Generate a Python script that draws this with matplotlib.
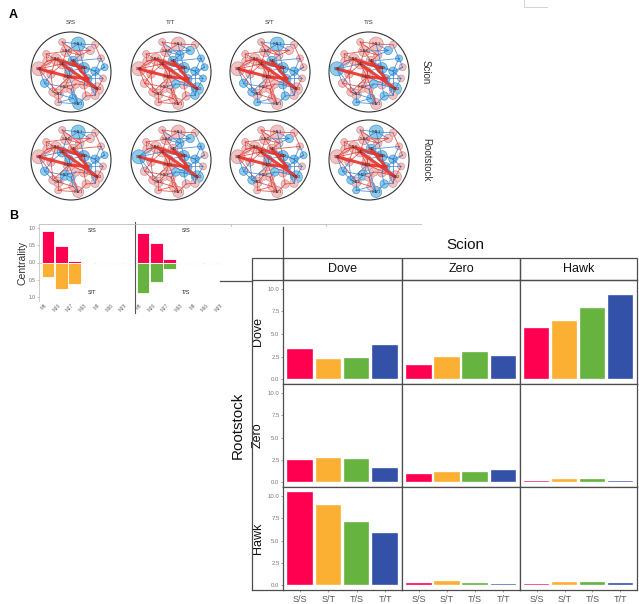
import matplotlib
matplotlib.use("Agg")
import matplotlib.pyplot as plt
from matplotlib.patches import Circle, Rectangle

plt.rcParams['font.family'] = ['Liberation Sans', 'DejaVu Sans']

W, H = 639, 604

# ---- panel B: bar facets (rows = rootstock, cols = scion) ----
genotypes = ["S/S", "S/T", "T/S", "T/T"]
strategies = ["Dove", "Zero", "Hawk"]
bar_colors = ["#FF0050", "#FBB034", "#66B43F", "#3451A8"]
root_dove = [[3.4, 2.2, 2.3, 3.8], [1.6, 2.5, 3.0, 2.6], [5.7, 6.4, 7.9, 9.3]]
root_zero = [[2.45, 2.7, 2.6, 1.55], [0.9, 1.1, 1.1, 1.35], [0.15, 0.35, 0.35, 0.2]]
root_hawk = [[10.45, 9.0, 7.1, 5.85], [0.25, 0.5, 0.3, 0.15], [0.2, 0.4, 0.4, 0.3]]
yticks_main = [0, 2.5, 5, 7.5, 10]

# ---- panel B: centrality ----
modules = ["M6", "M26", "M27", "M18", "M4", "M16", "M28"]
cent_ss_left = [0.91, 0.47, 0.05, 0, 0, 0, 0]
cent_st = [-0.41, -0.77, -0.62, 0, 0, 0, 0]
cent_ss_right = [0.85, 0.58, 0.09, 0, 0, 0, 0]
cent_ts = [-0.88, -0.56, -0.18, 0, 0, 0, 0]

# ---- panel A: network layout (shared), unit-circle coords ----
node_names = ["M11", "M1", "M16", "M10", "M2", "M3", "M9", "M25", "M5", "M6", "M12",
              "M21", "M4", "M18", "M8", "M7", "M13", "M14", "M15", "M17", "M19", "M20",
              "M22", "M23", "M24", "M26", "M27", "M28", "M29", "M30", "M31", "M32",
              "M33", "M34"]
node_x = [0.18, -0.80, -0.12, -0.38, -0.22, 0.05, 0.32, -0.05, -0.50, 0.60, 0.66, 0.18,
          0.42, -0.32, 0.75, 0.80, -0.60, -0.66, -0.45, -0.15, 0.05, 0.38, 0.60, 0.48,
          0.22, -0.22, 0.00, -0.62, 0.32, 0.84, -0.32, 0.12, 0.60, -0.05]
node_y = [0.70, 0.08, 0.52, 0.32, 0.20, 0.27, 0.10, -0.12, -0.05, 0.02, -0.42, -0.80,
          -0.17, -0.55, 0.34, -0.16, 0.27, -0.28, -0.50, -0.38, -0.66, -0.60, -0.58,
          0.54, 0.42, 0.75, -0.43, 0.45, -0.32, 0.12, -0.76, -0.30, 0.68, 0.02]
node_size = [7, 7, 5.5, 5.5, 5, 5, 5.5, 6, 4.2, 4.2, 6, 5.5, 4.2, 5, 3.5, 3.5, 4.2, 4.2,
             4.2, 5, 4.2, 4.2, 4.2, 4.2, 4.2, 3.5, 4.2, 3.5, 4.2, 3.5, 3.5, 4.2, 3.5, 4.2]
edges = [(0, 2), (0, 6), (0, 23), (0, 32), (1, 4), (1, 3), (1, 8), (1, 16), (1, 13),
         (2, 4), (2, 5), (2, 24), (3, 4), (3, 27), (4, 6), (4, 7), (4, 8), (5, 6), (5, 9),
         (5, 14), (6, 9), (6, 12), (6, 33), (7, 10), (7, 11), (7, 19), (7, 33), (8, 17),
         (8, 18), (9, 29), (9, 15), (10, 12), (10, 22), (10, 28), (11, 20), (11, 21),
         (11, 30), (12, 15), (13, 18), (13, 20), (14, 29), (16, 27), (17, 18), (19, 31),
         (21, 22), (23, 24), (24, 25), (25, 2), (26, 19), (26, 11), (28, 21), (31, 26),
         (32, 14), (33, 7), (13, 30), (3, 16), (12, 29), (20, 30), (1, 17), (16, 3),
         (2, 23), (5, 24), (9, 22), (15, 10), (19, 13), (26, 20), (8, 3), (6, 28),
         (0, 25), (14, 9), (31, 28), (17, 19), (27, 2), (12, 22), (7, 18), (4, 33)]
hub_edges = [(1, 7), (4, 10), (7, 12), (3, 6), (5, 12)]
net_titles = ["S/S", "T/T", "S/T", "T/S"]
blue_nodes = [
    [0, 6, 11, 12, 9, 5, 20, 33, 29, 17],            # scion S/S
    [6, 9, 10, 12, 14, 15, 22, 23, 24, 29, 5, 31],   # scion T/T
    [0, 6, 9, 12, 17, 18, 21, 28, 30, 5],            # scion S/T
    [1, 6, 9, 10, 12, 14, 23, 20, 21, 30, 31],       # scion T/S
    [0, 4, 6, 9, 12, 17, 19, 29, 33, 26],            # rootstock S/S
    [1, 6, 9, 10, 14, 23, 24, 28, 31, 12],           # rootstock T/T
    [6, 9, 10, 12, 17, 18, 23, 29, 31, 33],          # rootstock S/T
    [0, 5, 6, 9, 12, 17, 18, 19, 21, 30, 11],        # rootstock T/S
]


def px_rect(x0, y0, x1, y1):
    return [x0 / W, 1 - y1 / H, (x1 - x0) / W, (y1 - y0) / H]


fig = plt.figure(figsize=(W / 100, H / 100), dpi=100)
bg = fig.add_axes([0, 0, 1, 1])
bg.set_xlim(0, W)
bg.set_ylim(H, 0)
bg.axis("off")

# ---------------- panel A ----------------
bg.text(9, 15, "A", fontsize=9, fontweight="bold", va="center")
net_cx = [71, 171, 270, 369]
net_cy = [72, 160]
R = 40
for k in range(8):
    row, col = divmod(k, 4)
    cx, cy = net_cx[col], net_cy[row]
    bg.add_patch(Circle((cx, cy), R, fill=False, ec="#333333", lw=0.8))
    blues = set(blue_nodes[k])
    px = [cx + x * R for x in node_x]
    py = [cy - y * R for y in node_y]
    for i in range(len(node_names)):
        if i in blues:
            fc, ec = "#8CCBEA", "#3C86C2"
        else:
            fc, ec = "#F3C2C3", "#C08585"
        bg.add_patch(Circle((px[i], py[i]), node_size[i], fc=fc, ec=ec, lw=0.4, zorder=2))
    # edges drawn over the nodes, as in the dense original layout
    for a, b in edges:
        c = "#2B7BD0" if (a in blues or b in blues) else "#E5332B"
        bg.plot([px[a], px[b]], [py[a], py[b]], color=c, lw=0.6, alpha=0.8, zorder=3)
    for a, b in hub_edges:
        bg.plot([px[a], px[b]], [py[a], py[b]], color="#E5332B", lw=2.2, alpha=0.9, zorder=3)
    for i in range(len(node_names)):
        if node_size[i] >= 5:
            bg.text(px[i], py[i], node_names[i], fontsize=3, ha="center", va="center",
                    color="#333333", zorder=4, family="DejaVu Serif")
    if row == 0:
        bg.text(cx, 22, net_titles[col], fontsize=4.5, ha="center", va="center", color="#333333")
bg.text(426, 72, "Scion", fontsize=7, rotation=-90, ha="center", va="center", color="#333333")
bg.text(426, 160, "Rootstock", fontsize=7, rotation=-90, ha="center", va="center", color="#333333")

# ---------------- panel B: centrality ----------------
bg.text(9, 216, "B", fontsize=9, fontweight="bold", va="center")
bg.text(22, 263, "Centrality", fontsize=7.5, rotation=90, ha="center", va="center", color="#333333")


def centrality_axes(rect, xlim, up, down, down_color, zero_color, top_lab, bot_lab, show_y):
    ax = fig.add_axes(px_rect(*rect))
    x = list(range(1, len(modules) + 1))
    ax.bar(x, up, width=0.95, color="#FF0050", edgecolor="white", lw=0.6)
    ax.bar(x, down, width=0.95, color=down_color, edgecolor="white", lw=0.6)
    ax.axhline(0, color=zero_color, lw=0.8, ls="--", zorder=0)
    ax.set_xlim(*xlim)
    ax.set_ylim(-1.12, 1.12)
    ax.set_xticks(x)
    ax.set_xticklabels(modules, rotation=45, fontsize=3.3, color="#666666", ha="right")
    ax.tick_params(axis="x", length=0, pad=1)
    for s in ["top", "right", "bottom"]:
        ax.spines[s].set_visible(False)
    if show_y:
        ax.set_yticks([-1, -0.5, 0, 0.5, 1])
        ax.set_yticklabels(["1.0", "0.5", "0.0", "0.5", "1.0"], fontsize=3.5, color="#666666")
        ax.tick_params(axis="y", length=1.5, width=0.4, pad=1, color="#999999")
        ax.spines["left"].set_color("#BBBBBB")
        ax.spines["left"].set_linewidth(0.5)
    else:
        ax.set_yticks([])
        ax.spines["left"].set_visible(False)
    mid = (xlim[0] + xlim[1]) / 2 + 0.4
    ax.text(mid, 0.93, top_lab, fontsize=4, ha="center", va="center", color="#222222")
    ax.text(mid, -0.88, bot_lab, fontsize=4, ha="center", va="center", color="#222222")
    ax.patch.set_alpha(0)
    return ax


centrality_axes((39, 224, 135, 301), (0.32, 7.54), cent_ss_left, cent_st, "#FBB034",
                "#F2D9A0", "S/S", "S/T", True)
centrality_axes((136, 224, 226, 301), (0.47, 7.2), cent_ss_right, cent_ts, "#66B43F",
                "#CFE5B8", "S/S", "T/S", False)

# ---------------- panel B: facet grid ----------------
col_x = [283, 402, 520, 637]
row_y = [280, 384, 487, 590]
all_vals = [root_dove, root_zero, root_hawk]
pos = [1, 2, 3, 4]
for r in range(3):
    for c in range(3):
        ax = fig.add_axes(px_rect(col_x[c], row_y[r], col_x[c + 1], row_y[r + 1]))
        ax.bar(pos, all_vals[r][c], width=0.9, color=bar_colors, edgecolor="white", lw=0.25)
        ax.set_xlim(0.4, 4.6)
        ax.set_ylim(-0.52, 10.97)
        for s in ax.spines.values():
            s.set_color("#4D4D4D")
            s.set_linewidth(0.9)
        if c == 0:
            ax.set_yticks(yticks_main)
            ax.set_yticklabels(["0.0", "2.5", "5.0", "7.5", "10.0"], fontsize=4.3, color="#777777")
            ax.tick_params(axis="y", length=1.5, width=0.5, pad=1, color="#777777")
            ax.set_ylabel(strategies[r], fontsize=9, labelpad=3, color="#111111")
        else:
            ax.set_yticks([])
        if r == 2:
            ax.set_xticks(pos)
            ax.set_xticklabels(genotypes, fontsize=6.5, color="#555555")
            ax.tick_params(axis="x", length=1.5, width=0.5, pad=2, color="#777777")
        else:
            ax.set_xticks([])

# overlay: strips, frames and stray lines
ov = fig.add_axes([0, 0, 1, 1], zorder=10)
ov.set_xlim(0, W)
ov.set_ylim(H, 0)
ov.axis("off")
ov.patch.set_alpha(0)
line_c = "#4D4D4D"
ov.add_patch(Rectangle((252, 258), 31, 22, fill=False, ec=line_c, lw=0.9))
for c in range(3):
    ov.add_patch(Rectangle((col_x[c], 258), col_x[c + 1] - col_x[c], 22, fill=False, ec=line_c, lw=0.9))
    ov.text((col_x[c] + col_x[c + 1]) / 2, 269, strategies[c], fontsize=9, ha="center", va="center", color="#111111")
ov.text(465, 245, "Scion", fontsize=11, ha="center", va="center", color="#111111")
ov.text(238, 425, "Rootstock", fontsize=11, rotation=90, ha="center", va="center", color="#111111")
ov.plot([252, 252], [280, 590], color=line_c, lw=0.9)
ov.plot([252, 283], [590, 590], color=line_c, lw=0.9)
ov.plot([283, 283], [227, 258], color=line_c, lw=0.9)
ov.plot([220, 252], [280.5, 280.5], color=line_c, lw=0.9)
ov.plot([135, 135], [222, 313], color="#555555", lw=0.8)
ov.plot([39, 421], [224, 224], color="#BBBBBB", lw=0.6)
for tx in [231, 326]:
    ov.plot([tx, tx], [224, 226], color="#BBBBBB", lw=0.6)
ov.plot([524, 524, 547], [0, 7, 7], color="#CCCCCC", lw=0.6)

fig.savefig("out.png", dpi=100)
